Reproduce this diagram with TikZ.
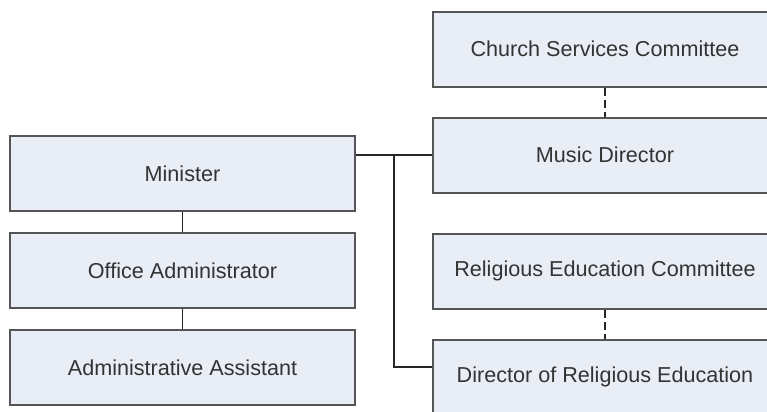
\documentclass[tikz,border=0pt]{standalone}
\usepackage{fontspec}
\setmainfont{Liberation Sans}
\usetikzlibrary{positioning}
\definecolor{boxfill}{HTML}{E8EDF6}
\definecolor{boxline}{HTML}{555555}
\definecolor{boxtext}{HTML}{333333}
\begin{document}
\begin{tikzpicture}[
  font=\fontsize{10.8}{13}\selectfont,
  node distance=10pt,
  role/.style={draw=boxline, line width=1pt, fill=boxfill, text=boxtext,
               minimum width=172.5pt, minimum height=37.5pt, inner sep=2pt},
  link/.style={draw=black!85, line width=0.75pt},
  advise/.style={link, dash pattern=on 4pt off 2pt}
]
\useasboundingbox (0,0) rectangle (383.5pt,-206pt);
% staff column
\node[role] (minister) at (91.25pt,-86.75pt) {Minister};
\node[role, below=of minister] (office) {Office Administrator};
\node[role, below=of office] (assistant) {Administrative Assistant};
% committees and directors
\node[role] (church) at (302.5pt,-24.5pt) {Church Services Committee};
\node[role, below=14.5pt of church] (music) {Music Director};
\node[role, below=19.5pt of music] (recomm) {Religious Education Committee};
\node[role, below=14.5pt of recomm] (dre) {Director of Religious Education};
\draw[link] (minister) -- (office);
\draw[link] (office) -- (assistant);
\draw[advise] (church) -- (music);
\draw[advise] (recomm) -- (dre);
\draw[link] (minister.east |- music.west) -- (music.west);
\path (minister.east |- music.west) ++(19pt,0) coordinate (split);
\draw[link] (split) |- ([yshift=5pt]dre.west);
\end{tikzpicture}
\end{document}
